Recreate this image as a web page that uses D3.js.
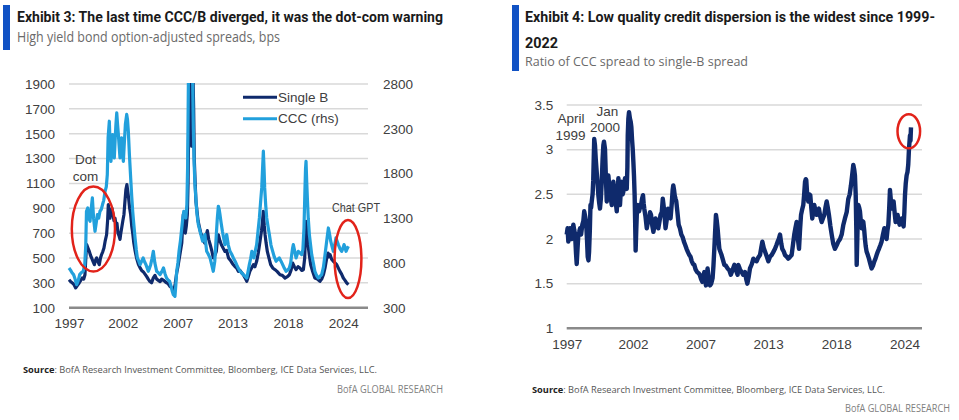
<!DOCTYPE html>
<html><head><meta charset="utf-8">
<script src="https://cdn.jsdelivr.net/npm/d3@7"></script>
<style>body{margin:0;background:#fff} svg{display:block}</style>
</head><body><svg id="c" width="959" height="420"></svg>
<script>
// ---------- DATA ----------
const xTickYears = [1997, 2002.3, 2007.7, 2013.1, 2018.55, 2024.0];
const xTickLabels = ["1997", "2002", "2007", "2013", "2018", "2024"];
const leftTicks = [100, 300, 500, 700, 900, 1100, 1300, 1500, 1700, 1900];
const rightTicks = [300, 800, 1300, 1800, 2300, 2800];
const ratioTicks = [1, 1.5, 2, 2.5, 3, 3.5];
const seriesNames = ["Single B", "CCC (rhs)"];

const bYears = [1997.0,1997.17,1997.33,1997.5,1997.66,1997.83,1998.0,1998.15,1998.3,1998.45,1998.57,1998.67,1998.74,1998.87,1999.0,1999.12,1999.23,1999.37,1999.5,1999.6,1999.72,1999.85,1999.98,2000.1,2000.2,2000.32,2000.44,2000.57,2000.7,2000.8,2000.87,2000.95,2001.03,2001.13,2001.23,2001.33,2001.43,2001.53,2001.63,2001.72,2001.82,2001.92,2002.02,2002.1,2002.2,2002.3,2002.41,2002.5,2002.6,2002.7,2002.78,2002.87,2002.97,2003.07,2003.17,2003.27,2003.38,2003.5,2003.65,2003.83,2004.0,2004.15,2004.3,2004.48,2004.65,2004.8,2004.97,2005.13,2005.3,2005.46,2005.63,2005.8,2005.97,2006.12,2006.3,2006.45,2006.62,2006.78,2006.95,2007.1,2007.22,2007.33,2007.45,2007.6,2007.72,2007.86,2007.98,2008.1,2008.18,2008.25,2008.35,2008.45,2008.55,2008.65,2008.72,2008.77,2008.83,2008.9,2008.97,2009.03,2009.07,2009.12,2009.2,2009.27,2009.33,2009.42,2009.5,2009.57,2009.7,2009.83,2009.97,2010.1,2010.23,2010.36,2010.5,2010.62,2010.75,2010.9,2011.05,2011.2,2011.35,2011.5,2011.6,2011.7,2011.85,2012.0,2012.17,2012.35,2012.52,2012.7,2012.9,2013.05,2013.18,2013.35,2013.5,2013.67,2013.83,2014.0,2014.16,2014.33,2014.5,2014.65,2014.8,2014.97,2015.15,2015.3,2015.47,2015.63,2015.8,2015.95,2016.05,2016.13,2016.22,2016.3,2016.4,2016.52,2016.68,2016.85,2017.05,2017.28,2017.5,2017.77,2018.0,2018.26,2018.5,2018.69,2018.85,2019.02,2019.18,2019.35,2019.55,2019.74,2019.9,2020.07,2020.2,2020.28,2020.33,2020.4,2020.53,2020.66,2020.79,2020.95,2021.2,2021.45,2021.7,2021.87,2022.04,2022.2,2022.37,2022.5,2022.6,2022.7,2022.85,2023.02,2023.18,2023.35,2023.5,2023.67,2023.83,2024.0,2024.17,2024.33,2024.5];
const bSpread = [325,310,299,285,259,280,299,320,339,330,365,520,607,580,553,520,500,470,446,480,500,470,446,500,526,550,580,640,687,800,930,850,820,880,900,850,800,820,760,780,700,680,650,700,750,800,850,950,1050,1090,1040,980,900,850,760,700,620,560,500,450,420,400,390,370,350,330,310,300,340,360,330,320,310,330,320,310,300,290,270,260,250,240,290,380,430,500,560,620,750,850,760,700,760,850,1100,1500,1800,2000,1800,1550,1400,1600,2000,1700,1300,1100,950,900,800,750,700,680,640,620,680,720,650,607,560,500,520,553,640,687,640,607,580,553,560,500,480,460,446,430,420,392,400,380,365,340,312,350,392,420,446,430,473,540,634,720,800,875,760,687,620,553,500,446,420,406,390,365,360,339,350,365,400,459,430,406,430,419,400,406,500,700,795,720,607,520,446,400,339,330,312,330,365,420,500,540,510,526,490,473,460,446,420,392,370,339,320,299,285];

const cccYears = [1997.0,1997.15,1997.3,1997.45,1997.6,1997.75,1997.9,1998.05,1998.2,1998.4,1998.55,1998.65,1998.72,1998.85,1998.95,1999.07,1999.2,1999.3,1999.42,1999.56,1999.68,1999.8,1999.92,2000.05,2000.18,2000.3,2000.42,2000.55,2000.67,2000.77,2000.85,2000.97,2001.05,2001.13,2001.22,2001.3,2001.38,2001.46,2001.55,2001.62,2001.7,2001.78,2001.86,2001.94,2002.02,2002.1,2002.18,2002.26,2002.35,2002.45,2002.55,2002.68,2002.76,2002.84,2002.95,2003.07,2003.17,2003.27,2003.38,2003.5,2003.62,2003.73,2003.87,2004.0,2004.15,2004.3,2004.45,2004.58,2004.7,2004.8,2004.92,2005.04,2005.17,2005.3,2005.45,2005.63,2005.8,2005.96,2006.12,2006.3,2006.45,2006.6,2006.75,2006.9,2007.05,2007.17,2007.27,2007.43,2007.52,2007.6,2007.72,2007.83,2007.97,2008.1,2008.2,2008.3,2008.4,2008.5,2008.6,2008.68,2008.75,2008.82,2008.9,2008.98,2009.07,2009.15,2009.24,2009.32,2009.4,2009.5,2009.57,2009.65,2009.73,2009.82,2009.9,2010.02,2010.15,2010.27,2010.38,2010.48,2010.55,2010.7,2010.88,2011.05,2011.2,2011.35,2011.5,2011.6,2011.7,2011.78,2011.86,2011.97,2012.1,2012.22,2012.35,2012.52,2012.68,2012.85,2013.0,2013.18,2013.35,2013.5,2013.67,2013.83,2014.0,2014.16,2014.33,2014.5,2014.62,2014.75,2014.88,2015.0,2015.1,2015.2,2015.33,2015.47,2015.6,2015.74,2015.87,2015.97,2016.05,2016.13,2016.2,2016.26,2016.36,2016.46,2016.6,2016.72,2016.88,2017.05,2017.2,2017.38,2017.55,2017.7,2017.87,2018.03,2018.2,2018.36,2018.52,2018.69,2018.82,2018.92,2019.0,2019.08,2019.22,2019.35,2019.47,2019.57,2019.75,2019.9,2020.02,2020.13,2020.22,2020.28,2020.33,2020.4,2020.46,2020.55,2020.66,2020.78,2020.89,2021.05,2021.2,2021.37,2021.54,2021.7,2021.87,2022.04,2022.2,2022.37,2022.53,2022.6,2022.68,2022.76,2022.9,2023.02,2023.15,2023.28,2023.4,2023.51,2023.67,2023.84,2023.95,2024.07,2024.17,2024.27,2024.38,2024.5];
const cccSpread = [744,720,690,670,620,558,600,670,690,707,781,1000,1378,1415,1300,1266,1420,1527,1300,1154,1250,1341,1300,1378,1400,1453,1500,1602,1650,1788,2200,2384,2100,1936,2100,2234,2050,1973,2200,2350,2478,2350,2234,2100,1973,2100,2197,2050,1936,2150,2350,2460,2400,2272,2000,1750,1550,1378,1230,1080,950,856,820,781,820,856,810,781,740,707,740,781,850,930,800,707,690,670,700,744,680,632,610,595,540,480,446,427,560,707,800,930,1050,1191,1300,1378,1320,1303,1450,1900,2800,3500,4000,3700,3300,3000,2300,1900,1667,1500,1378,1300,1229,1190,1154,1100,1043,1080,1117,1000,930,900,856,780,707,820,1117,1300,1434,1400,1341,1250,1154,1080,1005,1117,1000,930,900,856,820,781,740,707,690,670,650,632,700,781,850,930,900,856,930,1005,1150,1303,1500,1639,1850,2049,1850,1639,1450,1303,1200,1117,1000,930,870,819,840,856,820,781,740,707,720,744,800,893,960,1005,930,856,900,930,910,893,950,1191,1600,1850,1936,1700,1527,1300,1117,1000,893,800,707,660,632,650,670,750,893,1050,1191,1150,1100,1043,980,930,1000,1080,1040,1005,960,930,960,1005,970,930,960,986];

const ratioYears = [1997.0,1997.07,1997.13,1997.2,1997.26,1997.33,1997.4,1997.47,1997.53,1997.6,1997.67,1997.74,1997.8,1997.87,1997.93,1998.0,1998.07,1998.15,1998.25,1998.33,1998.4,1998.48,1998.55,1998.62,1998.68,1998.74,1998.79,1998.85,1998.9,1998.95,1999.0,1999.07,1999.12,1999.17,1999.2,1999.26,1999.32,1999.37,1999.42,1999.48,1999.53,1999.6,1999.66,1999.73,1999.8,1999.87,1999.93,1999.98,2000.06,2000.13,2000.2,2000.27,2000.33,2000.4,2000.46,2000.53,2000.6,2000.67,2000.73,2000.8,2000.86,2000.93,2001.0,2001.07,2001.13,2001.2,2001.26,2001.33,2001.4,2001.47,2001.53,2001.6,2001.66,2001.73,2001.8,2001.85,2001.88,2001.93,2001.98,2002.05,2002.12,2002.17,2002.22,2002.28,2002.33,2002.38,2002.43,2002.47,2002.51,2002.56,2002.62,2002.7,2002.78,2002.86,2002.94,2003.02,2003.1,2003.15,2003.2,2003.3,2003.4,2003.5,2003.58,2003.66,2003.74,2003.84,2003.93,2004.02,2004.1,2004.2,2004.32,2004.42,2004.5,2004.6,2004.68,2004.74,2004.8,2004.9,2005.0,2005.1,2005.2,2005.3,2005.4,2005.47,2005.52,2005.58,2005.63,2005.7,2005.76,2005.85,2005.95,2006.05,2006.16,2006.27,2006.37,2006.48,2006.58,2006.7,2006.8,2006.9,2007.0,2007.1,2007.2,2007.3,2007.42,2007.52,2007.63,2007.74,2007.84,2007.92,2008.0,2008.07,2008.13,2008.2,2008.26,2008.35,2008.45,2008.55,2008.66,2008.73,2008.8,2008.87,2008.93,2009.0,2009.06,2009.13,2009.2,2009.3,2009.38,2009.5,2009.6,2009.73,2009.86,2010.0,2010.12,2010.25,2010.4,2010.53,2010.66,2010.72,2010.85,2010.98,2011.1,2011.25,2011.35,2011.44,2011.55,2011.65,2011.8,2011.92,2012.05,2012.18,2012.3,2012.45,2012.55,2012.64,2012.75,2012.85,2013.0,2013.12,2013.25,2013.38,2013.5,2013.65,2013.76,2013.86,2013.95,2014.05,2014.15,2014.23,2014.35,2014.45,2014.6,2014.71,2014.85,2014.98,2015.08,2015.19,2015.28,2015.38,2015.48,2015.57,2015.65,2015.73,2015.82,2015.91,2015.98,2016.05,2016.11,2016.15,2016.22,2016.31,2016.4,2016.47,2016.55,2016.63,2016.7,2016.79,2016.88,2016.98,2017.07,2017.16,2017.27,2017.38,2017.48,2017.59,2017.68,2017.78,2017.87,2017.96,2018.07,2018.18,2018.3,2018.44,2018.58,2018.71,2018.85,2018.98,2019.1,2019.24,2019.38,2019.51,2019.62,2019.72,2019.82,2019.91,2019.98,2020.04,2020.1,2020.15,2020.18,2020.23,2020.28,2020.31,2020.38,2020.44,2020.51,2020.58,2020.65,2020.71,2020.78,2020.84,2020.9,2020.97,2021.07,2021.16,2021.27,2021.37,2021.48,2021.59,2021.68,2021.77,2021.87,2021.96,2022.07,2022.17,2022.28,2022.39,2022.48,2022.57,2022.64,2022.71,2022.78,2022.84,2022.9,2022.97,2023.05,2023.13,2023.21,2023.29,2023.37,2023.45,2023.53,2023.61,2023.69,2023.77,2023.85,2023.93,2023.99,2024.04,2024.1,2024.17,2024.24,2024.3,2024.36,2024.44,2024.48,2024.52];
const ratio = [2.05,2.12,1.97,2.08,2.12,2.02,2.0,2.1,2.16,2.1,2.05,1.85,1.72,1.9,2.05,2.08,2.12,2.05,2.16,2.2,2.31,2.25,2.19,2.0,1.8,1.76,1.86,2.1,2.38,2.35,2.42,2.5,2.65,2.95,3.12,3.05,2.9,2.8,2.71,2.6,2.49,2.4,2.34,2.45,2.64,2.9,3.05,3.09,3.01,2.7,2.42,2.55,2.71,2.6,2.56,2.45,2.38,2.55,2.64,2.55,2.49,2.4,2.31,2.5,2.68,2.5,2.38,2.55,2.64,2.5,2.53,2.62,2.68,2.6,2.56,2.8,3.16,3.35,3.42,3.35,3.31,3.25,3.12,3.0,2.86,2.7,2.49,2.2,1.87,2.1,2.34,2.38,2.31,2.35,2.38,2.45,2.49,2.4,2.34,2.25,2.12,2.2,2.19,2.3,2.27,2.15,2.08,2.15,2.23,2.15,2.12,2.2,2.27,2.3,2.45,2.38,2.3,2.12,2.22,2.34,2.3,2.23,2.4,2.55,2.6,2.55,2.49,2.45,2.42,2.3,2.16,2.12,2.05,2.02,1.97,1.93,1.89,1.85,1.82,1.8,1.75,1.72,1.71,1.66,1.63,1.62,1.6,1.55,1.52,1.58,1.63,1.55,1.48,1.6,1.67,1.55,1.48,1.5,1.56,1.7,1.89,2.1,2.27,2.2,2.12,2.0,1.89,1.85,1.82,1.76,1.71,1.7,1.67,1.65,1.6,1.65,1.71,1.65,1.6,1.71,1.66,1.63,1.6,1.63,1.55,1.5,1.58,1.67,1.72,1.78,1.76,1.75,1.79,1.82,1.9,1.97,1.9,1.86,1.8,1.75,1.8,1.82,1.85,1.89,1.93,1.97,2.0,2.05,1.95,1.89,1.86,1.82,1.8,1.78,1.8,1.82,1.93,2.05,2.12,2.19,2.0,1.89,2.1,2.27,2.33,2.38,2.5,2.64,2.67,2.66,2.5,2.42,2.5,2.49,2.35,2.23,2.3,2.38,2.32,2.27,2.3,2.34,2.25,2.19,2.23,2.27,2.35,2.42,2.35,2.27,2.15,2.05,1.95,1.89,1.93,1.97,2.0,2.05,2.15,2.23,2.3,2.45,2.5,2.6,2.72,2.83,2.78,2.71,2.5,2.1,1.71,2.0,2.3,2.38,2.35,2.31,2.2,2.12,2.2,2.19,2.1,2.0,1.92,1.86,1.82,1.78,1.72,1.67,1.7,1.75,1.78,1.82,1.86,1.89,1.93,1.97,2.05,2.12,2.08,2.0,2.1,2.16,2.35,2.55,2.45,2.34,2.38,2.42,2.3,2.19,2.22,2.27,2.2,2.16,2.2,2.23,2.18,2.14,2.3,2.49,2.62,2.71,2.75,2.83,3.01,3.16,3.1,3.25];

// ---------- STYLE ----------
const NAVY = "#0f2a6c", LIGHT = "#22a0dc", RED = "#e2231a", BLUEBAR = "#1152c4";
const GRID = "#d9d9d9", AXIS = "#8a8a8a", TXT = "#404040";
const NUMFONT = "'Liberation Sans',Arial,sans-serif";

const svg = d3.select("#c");

function fitText(sel, x, y, txt, w, size, weight, color, family) {
  return sel.append("text").attr("x", x).attr("y", y).text(txt)
    .attr("font-family", family).attr("font-size", size).attr("font-weight", weight)
    .attr("fill", color).attr("textLength", w).attr("lengthAdjust", "spacingAndGlyphs");
}

// ---------- HEADERS ----------
svg.append("rect").attr("x", 3).attr("y", 5).attr("width", 7).attr("height", 45).attr("fill", BLUEBAR);
svg.append("rect").attr("x", 512).attr("y", 5).attr("width", 7).attr("height", 66).attr("fill", BLUEBAR);
fitText(svg, 17, 21.5, "Exhibit 3: The last time CCC/B diverged, it was the dot-com warning", 426, 15, 700, "#1a1a1a", "Roboto, sans-serif");
fitText(svg, 17, 41.5, "High yield bond option-adjusted spreads, bps", 263, 14, 400, "#6a6a6a", "'Open Sans', sans-serif");
fitText(svg, 525, 21.5, "Exhibit 4: Low quality credit dispersion is the widest since 1999-", 410, 15, 700, "#1a1a1a", "Roboto, sans-serif");
fitText(svg, 525, 48, "2022", 33, 15, 700, "#1a1a1a", "Roboto, sans-serif");
fitText(svg, 525, 65.5, "Ratio of CCC spread to single-B spread", 223, 13.5, 400, "#6a6a6a", "'Open Sans', sans-serif");

function source(x, y, w) {
  const t = svg.append("text").attr("x", x).attr("y", y)
    .attr("font-family", "'Open Sans', sans-serif").attr("font-size", 9.5).attr("fill", "#555")
    .attr("textLength", w).attr("lengthAdjust", "spacingAndGlyphs");
  t.append("tspan").attr("font-weight", 700).attr("fill", "#222").text("Source");
  t.append("tspan").text(": BofA Research Investment Committee, Bloomberg, ICE Data Services, LLC.");
}
source(23, 373, 354);
source(532, 393, 353);
fitText(svg, 337, 393, "BofA GLOBAL RESEARCH", 106, 10, 400, "#808080", "'Open Sans', sans-serif");
fitText(svg, 845, 411.5, "BofA GLOBAL RESEARCH", 105, 10, 400, "#808080", "'Open Sans', sans-serif");

function styleAxis(g) {
  g.select(".domain").remove();
  g.selectAll("text").attr("font-family", NUMFONT).attr("font-size", 13.5).attr("fill", TXT);
}

// ---------- LEFT CHART ----------
const xL = d3.scaleLinear().domain([1997, 2026.43]).range([69, 368]);
const yL = d3.scaleLinear().domain([100, 1900]).range([307.7, 84]);
const yR = d3.scaleLinear().domain([300, 2800]).range([307.7, 84]);

const gl = svg.append("g");
gl.selectAll("line.grid").data(leftTicks.filter(d => d !== 100)).join("line")
  .attr("x1", 69).attr("x2", 368).attr("y1", d => yL(d)).attr("y2", d => yL(d))
  .attr("stroke", GRID).attr("stroke-width", 1.5);

svg.append("defs").html('<clipPath id="clipL"><rect x="60" y="83" width="320" height="240"/></clipPath>');

const lineB = d3.line().x((d, i) => xL(bYears[i])).y(d => yL(d));
const lineC = d3.line().x((d, i) => xL(cccYears[i])).y(d => yR(d));
gl.append("path").datum(bSpread).attr("d", lineB).attr("fill", "none").attr("stroke", NAVY)
  .attr("stroke-width", 3.2).attr("stroke-linejoin", "round").attr("clip-path", "url(#clipL)");
gl.append("path").datum(cccSpread).attr("d", lineC).attr("fill", "none").attr("stroke", LIGHT)
  .attr("stroke-width", 3.2).attr("stroke-linejoin", "round").attr("clip-path", "url(#clipL)");

gl.append("line").attr("x1", 69).attr("x2", 368).attr("y1", yL(100)).attr("y2", yL(100))
  .attr("stroke", AXIS).attr("stroke-width", 2.5);

gl.append("g").attr("transform", "translate(69,0)")
  .call(d3.axisLeft(yL).tickValues(leftTicks).tickFormat(d3.format("d")).tickSize(0).tickPadding(14)).call(styleAxis);
gl.append("g").attr("transform", "translate(368,0)")
  .call(d3.axisRight(yR).tickValues(rightTicks).tickFormat(d3.format("d")).tickSize(0).tickPadding(15)).call(styleAxis);
gl.append("g").attr("transform", `translate(0,${yL(100)})`)
  .call(d3.axisBottom(xL).tickValues(xTickYears).tickFormat((d, i) => xTickLabels[i]).tickSize(0).tickPadding(11))
  .call(styleAxis);

// legend
const legColors = [NAVY, LIGHT];
seriesNames.forEach((name, i) => {
  const y = 97.3 + i * 21.4;
  gl.append("line").attr("x1", 243).attr("x2", 277).attr("y1", y).attr("y2", y)
    .attr("stroke", legColors[i]).attr("stroke-width", 3);
  gl.append("text").attr("x", 278).attr("y", y + 4.7).text(name)
    .attr("font-family", NUMFONT).attr("font-size", 13.5).attr("fill", TXT);
});

// annotations
function note(x, y, t, anchor) {
  svg.append("text").attr("x", x).attr("y", y).text(t).attr("text-anchor", anchor || "middle")
    .attr("font-family", NUMFONT).attr("font-size", 13.5).attr("fill", TXT);
}
note(85.5, 164, "Dot");
note(85.5, 180.5, "com");
fitText(svg, 332, 212, "Chat GPT", 48, 13, 400, TXT, NUMFONT);
gl.append("ellipse").attr("cx", 93.4).attr("cy", 229).attr("rx", 21.6).attr("ry", 42.5)
  .attr("fill", "none").attr("stroke", RED).attr("stroke-width", 2.5);
gl.append("ellipse").attr("cx", 348).attr("cy", 259).attr("rx", 13.4).attr("ry", 39)
  .attr("fill", "none").attr("stroke", RED).attr("stroke-width", 2.5);

// ---------- RIGHT CHART ----------
const xR = d3.scaleLinear().domain([1997, 2025.4]).range([566.7, 922]);
const yQ = d3.scaleLinear().domain([1, 3.5]).range([328.3, 105]);
const gr = svg.append("g");
gr.selectAll("line.grid").data(ratioTicks.filter(d => d !== 1)).join("line")
  .attr("x1", 566.7).attr("x2", 922).attr("y1", d => yQ(d)).attr("y2", d => yQ(d))
  .attr("stroke", GRID).attr("stroke-width", 1.5);
const lineQ = d3.line().x((d, i) => xR(ratioYears[i])).y(d => yQ(d));
gr.append("path").datum(ratio).attr("d", lineQ).attr("fill", "none").attr("stroke", NAVY)
  .attr("stroke-width", 4.4).attr("stroke-linejoin", "round");
gr.append("line").attr("x1", 566.7).attr("x2", 922).attr("y1", yQ(1)).attr("y2", yQ(1))
  .attr("stroke", AXIS).attr("stroke-width", 2.5);
gr.append("g").attr("transform", "translate(566.7,0)")
  .call(d3.axisLeft(yQ).tickValues(ratioTicks).tickFormat(d => String(d)).tickSize(0).tickPadding(13.5)).call(styleAxis);
gr.append("g").attr("transform", `translate(0,${yQ(1)})`)
  .call(d3.axisBottom(xR).tickValues(xTickYears).tickFormat((d, i) => xTickLabels[i]).tickSize(0).tickPadding(11.5))
  .call(styleAxis);

note(571, 123, "April");
note(570.5, 140, "1999");
note(607.5, 115.5, "Jan");
note(605, 131.5, "2000");
gr.append("ellipse").attr("cx", 908.8).attr("cy", 131.3).attr("rx", 11.3).attr("ry", 17)
  .attr("fill", "none").attr("stroke", RED).attr("stroke-width", 2.5);
</script></body></html>
